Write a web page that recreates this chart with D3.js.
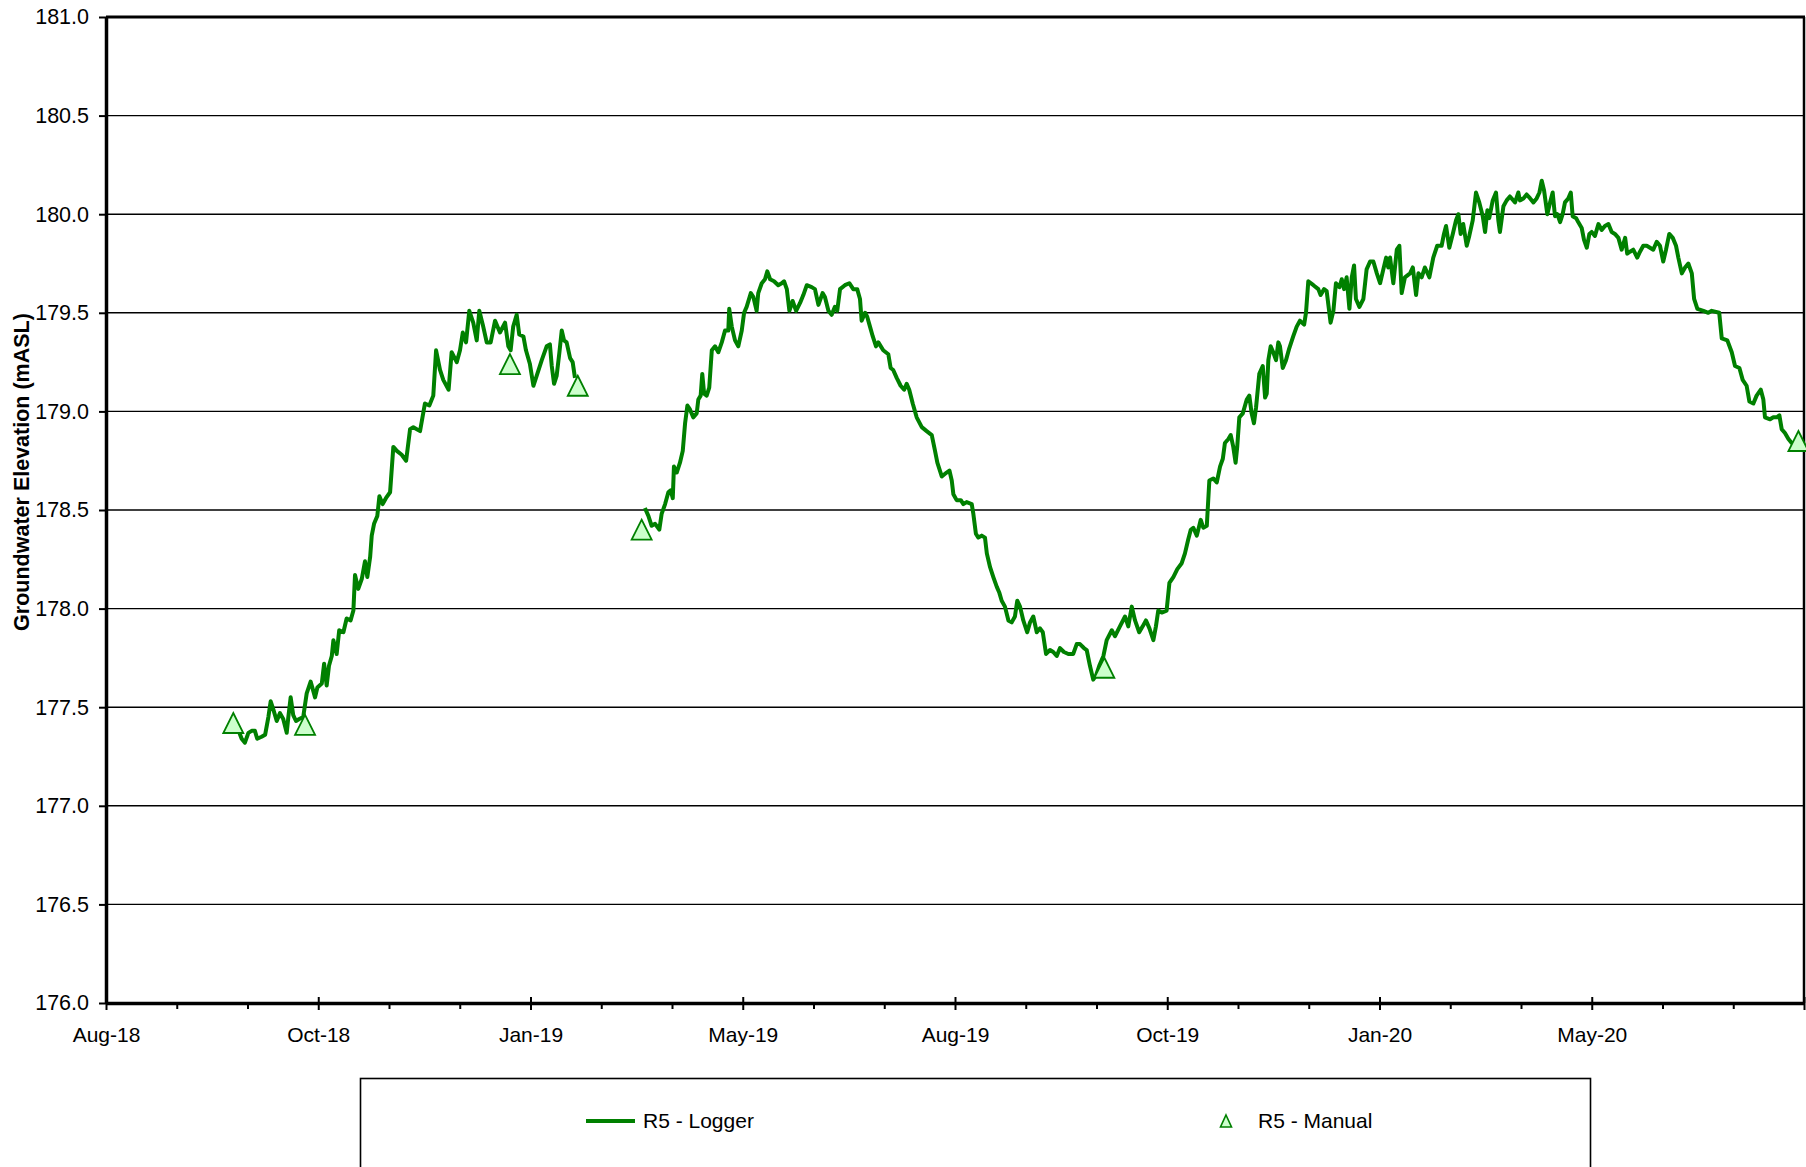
<!DOCTYPE html>
<html><head><meta charset="utf-8">
<script src="https://cdn.jsdelivr.net/npm/d3@7"></script>
<style>
html,body{margin:0;padding:0;background:#fff;}
svg{display:block;font-family:"Liberation Sans",Arial,Helvetica,sans-serif;}
</style></head><body>
<svg id="chart" width="1806" height="1167"></svg>
<script>
// ---------------- DATA ----------------
// Dates are Excel serial day numbers (1 = 1900-01-01); levels in mASL.
// R5 - Logger: [serial date, groundwater elevation]; null marks the data gap.
const loggerSeries = [
[43368.5,177.43],[43371.4,177.34],[43372.8,177.32],[43374.3,177.37],[43375.7,177.38],[43377.1,177.38],[43378.1,177.34],[43380.0,177.35],[43381.5,177.36],[43382.9,177.45],
[43383.9,177.53],[43385.0,177.49],[43386.5,177.43],[43387.9,177.47],[43389.3,177.44],[43390.8,177.37],[43391.5,177.45],[43392.5,177.55],[43393.6,177.46],[43394.8,177.43],
[43396.2,177.44],[43397.9,177.45],[43399.4,177.57],[43401.1,177.63],[43403.0,177.55],[43404.0,177.60],[43405.9,177.62],[43406.9,177.72],[43408.0,177.61],[43409.0,177.71],
[43410.2,177.76],[43410.9,177.84],[43412.3,177.77],[43413.4,177.89],[43415.2,177.88],[43416.6,177.95],[43418.3,177.94],[43419.5,177.99],[43420.2,178.17],[43421.6,178.10],
[43423.1,178.15],[43424.5,178.24],[43425.5,178.16],[43426.7,178.26],[43427.4,178.37],[43428.4,178.43],[43429.8,178.47],[43430.7,178.57],[43432.1,178.53],[43433.5,178.56],
[43435.3,178.59],[43436.7,178.82],[43438.2,178.80],[43440.3,178.78],[43442.2,178.75],[43443.9,178.91],[43445.3,178.92],[43448.2,178.90],[43450.3,179.04],[43452.2,179.03],
[43453.9,179.08],[43455.1,179.31],[43456.8,179.21],[43458.2,179.16],[43460.5,179.11],[43461.8,179.30],[43464.0,179.25],[43465.4,179.31],[43466.6,179.40],[43468.0,179.35],
[43469.4,179.51],[43471.1,179.45],[43472.6,179.36],[43473.7,179.51],[43475.4,179.43],[43476.9,179.35],[43478.6,179.35],[43480.5,179.46],[43482.6,179.40],[43484.8,179.45],
[43486.2,179.33],[43487.2,179.31],[43488.3,179.43],[43489.8,179.49],[43490.9,179.39],[43492.7,179.38],[43493.8,179.31],[43495.5,179.24],[43497.0,179.13],[43498.4,179.18],
[43500.6,179.26],[43502.7,179.33],[43504.1,179.34],[43504.9,179.23],[43505.9,179.14],[43507.0,179.18],[43508.2,179.30],[43509.2,179.41],[43510.2,179.36],[43511.3,179.35],
[43512.8,179.27],[43513.9,179.25],[43514.9,179.17],
[43530.0,null],
[43545.0,178.51],[43546.5,178.47],[43547.9,178.42],[43549.4,178.43],[43551.2,178.40],[43552.2,178.48],[43553.7,178.53],[43555.1,178.59],[43556.1,178.60],[43557.0,178.56],
[43557.5,178.72],[43558.7,178.69],[43560.1,178.74],[43561.3,178.80],[43562.3,178.94],[43563.3,179.03],[43564.4,179.01],[43565.8,178.97],[43567.3,178.99],[43568.0,179.06],
[43569.0,179.08],[43569.7,179.19],[43570.5,179.09],[43571.6,179.08],[43572.7,179.12],[43573.8,179.31],[43575.2,179.33],[43576.6,179.30],[43578.1,179.35],[43579.5,179.41],
[43580.9,179.41],[43581.3,179.52],[43582.4,179.43],[43583.8,179.36],[43585.2,179.33],[43586.7,179.41],[43587.7,179.50],[43588.8,179.53],[43590.6,179.60],[43591.7,179.58],
[43593.1,179.51],[43593.8,179.60],[43595.3,179.65],[43596.7,179.67],[43597.7,179.71],[43598.9,179.67],[43600.6,179.66],[43602.4,179.64],[43603.9,179.65],[43604.9,179.66],
[43606.1,179.62],[43607.2,179.51],[43608.6,179.56],[43610.1,179.51],[43611.8,179.55],[43613.2,179.59],[43614.7,179.64],[43616.8,179.63],[43618.2,179.62],[43619.7,179.54],
[43621.5,179.60],[43622.5,179.58],[43624.0,179.51],[43625.4,179.49],[43626.8,179.53],[43627.8,179.51],[43629.0,179.62],[43631.1,179.64],[43633.0,179.65],[43634.7,179.62],
[43636.4,179.62],[43637.6,179.57],[43638.3,179.46],[43639.8,179.50],[43640.7,179.48],[43641.9,179.43],[43643.1,179.38],[43644.5,179.33],[43645.5,179.35],[43647.6,179.31],
[43649.8,179.29],[43650.8,179.22],[43651.9,179.21],[43653.4,179.17],[43655.1,179.13],[43656.6,179.11],[43657.7,179.14],[43658.8,179.11],[43660.3,179.04],[43662.0,178.97],
[43664.2,178.92],[43666.3,178.90],[43668.5,178.88],[43669.9,178.80],[43670.9,178.74],[43672.8,178.67],[43674.9,178.69],[43676.1,178.70],[43677.1,178.65],[43677.8,178.58],
[43679.2,178.55],[43681.0,178.55],[43682.1,178.53],[43683.5,178.54],[43685.7,178.53],[43686.4,178.48],[43687.5,178.38],[43688.5,178.36],[43690.0,178.37],[43691.4,178.36],
[43692.2,178.28],[43693.6,178.21],[43695.0,178.16],[43696.5,178.11],[43697.6,178.08],[43698.6,178.04],[43700.0,178.01],[43701.5,177.94],[43702.9,177.93],[43704.3,177.96],
[43705.3,178.04],[43706.5,178.01],[43707.9,177.94],[43709.6,177.88],[43710.8,177.93],[43712.2,177.96],[43713.7,177.88],[43715.1,177.90],[43716.3,177.88],[43717.7,177.77],
[43719.4,177.79],[43720.8,177.78],[43722.3,177.76],[43723.7,177.80],[43725.4,177.78],[43727.3,177.77],[43729.4,177.77],[43730.9,177.82],[43732.3,177.82],[43734.0,177.80],
[43735.2,177.79],[43736.6,177.71],[43738.0,177.64],[43739.2,177.66],[43740.6,177.71],[43742.4,177.76],[43743.8,177.84],[43746.0,177.89],[43747.4,177.86],[43749.5,177.91],
[43751.7,177.96],[43753.1,177.91],[43754.6,178.01],[43756.0,177.94],[43757.8,177.88],[43759.3,177.91],[43760.7,177.94],[43762.2,177.90],[43763.9,177.84],[43765.0,177.91],
[43766.0,177.99],[43767.5,177.98],[43769.6,177.99],[43770.8,178.13],[43772.5,178.16],[43774.2,178.20],[43776.1,178.23],[43777.5,178.28],[43778.9,178.35],[43780.0,178.40],
[43781.1,178.41],[43782.6,178.37],[43784.3,178.45],[43785.4,178.41],[43786.9,178.42],[43788.0,178.65],[43789.7,178.66],[43791.2,178.64],[43792.6,178.72],[43793.8,178.76],
[43794.7,178.84],[43796.2,178.86],[43797.2,178.88],[43798.3,178.82],[43799.3,178.74],[43800.0,178.82],[43800.9,178.97],[43802.4,178.99],[43804.1,179.06],[43805.2,179.08],
[43806.2,178.99],[43807.2,178.94],[43808.1,179.02],[43809.5,179.19],[43811.0,179.23],[43812.0,179.07],[43812.7,179.09],[43813.4,179.26],[43814.4,179.33],[43815.5,179.30],
[43816.7,179.26],[43817.7,179.35],[43818.4,179.33],[43819.6,179.22],[43821.0,179.26],[43822.4,179.32],[43824.1,179.38],[43825.6,179.43],[43827.0,179.46],[43828.8,179.44],
[43829.6,179.50],[43830.6,179.66],[43832.8,179.64],[43834.9,179.62],[43835.9,179.59],[43837.4,179.62],[43838.5,179.61],[43840.2,179.45],[43841.4,179.51],[43842.5,179.65],
[43844.0,179.63],[43845.0,179.67],[43846.0,179.62],[43847.1,179.68],[43848.3,179.52],[43849.3,179.68],[43850.3,179.74],[43851.1,179.57],[43852.6,179.53],[43854.3,179.57],
[43855.7,179.72],[43857.2,179.76],[43858.6,179.76],[43860.1,179.70],[43861.5,179.65],[43862.9,179.72],[43864.1,179.78],[43865.0,179.73],[43865.8,179.78],[43867.2,179.65],
[43868.7,179.82],[43869.8,179.84],[43870.8,179.60],[43872.2,179.68],[43874.4,179.70],[43875.6,179.73],[43877.0,179.59],[43878.0,179.70],[43879.4,179.68],[43880.8,179.73],
[43882.7,179.68],[43884.4,179.78],[43886.1,179.84],[43888.0,179.84],[43889.0,179.90],[43889.9,179.94],[43891.3,179.83],[43892.8,179.90],[43894.2,179.97],[43895.2,180.00],
[43896.2,179.90],[43897.3,179.95],[43898.8,179.84],[43899.9,179.89],[43901.4,179.97],[43902.8,180.11],[43904.2,180.06],[43905.7,179.99],[43906.7,179.91],[43907.7,180.02],
[43908.5,179.98],[43910.0,180.07],[43911.4,180.11],[43912.4,179.97],[43913.1,179.91],[43914.6,180.04],[43916.0,180.07],[43917.4,180.09],[43919.6,180.06],[43921.0,180.11],
[43921.7,180.07],[43923.2,180.08],[43924.6,180.10],[43926.1,180.08],[43927.5,180.06],[43928.9,180.08],[43930.1,180.11],[43931.1,180.17],[43932.1,180.12],[43933.5,180.00],
[43934.7,180.06],[43935.8,180.11],[43936.8,179.99],[43937.8,180.00],[43939.0,179.96],[43940.1,180.00],[43941.1,180.06],[43942.5,180.08],[43943.6,180.11],[43944.4,179.99],
[43945.9,179.98],[43946.8,179.96],[43948.3,179.93],[43949.3,179.87],[43950.5,179.83],[43951.6,179.90],[43952.6,179.91],[43954.0,179.89],[43955.5,179.95],[43956.9,179.92],
[43958.3,179.94],[43959.8,179.95],[43961.2,179.91],[43962.6,179.90],[43964.1,179.88],[43965.5,179.82],[43967.0,179.88],[43967.9,179.80],[43969.1,179.81],[43970.5,179.82],
[43972.2,179.78],[43973.4,179.81],[43974.8,179.84],[43976.3,179.84],[43977.7,179.83],[43979.1,179.82],[43980.6,179.86],[43982.0,179.84],[43983.4,179.76],[43984.6,179.82],
[43986.0,179.90],[43987.5,179.88],[43988.9,179.84],[43989.9,179.78],[43991.4,179.70],[43992.8,179.73],[43994.2,179.75],[43995.7,179.70],[43996.7,179.57],[43998.1,179.52],
[44000.7,179.51],[44002.8,179.50],[44004.3,179.51],[44007.5,179.50],[44008.6,179.37],[44011.0,179.36],[44012.9,179.30],[44014.3,179.23],[44016.2,179.22],[44017.6,179.16],
[44019.3,179.13],[44020.5,179.05],[44022.2,179.04],[44023.6,179.08],[44025.4,179.11],[44026.5,179.06],[44027.2,178.97],[44029.4,178.96],[44030.8,178.97],[44032.3,178.97],
[44033.4,178.98],[44034.4,178.91],[44035.8,178.89],[44037.3,178.86],[44038.7,178.84],[44041.0,178.83]
];

// R5 - Manual readings
const manualSerial = [43367.8, 43398.7, 43486.9, 43516.1, 43543.6, 43742.8, 44041.6];
const manualLevel  = [177.42, 177.41, 179.24, 179.13, 178.40, 177.70, 178.85];

// Axes
const yTicks = [176.0, 176.5, 177.0, 177.5, 178.0, 178.5, 179.0, 179.5, 180.0, 180.5, 181.0];
const xAxisStartSerial = 43313;   // 1-Aug-2018
const xAxisEndSerial = 44044;     // 1-Aug-2020
const xMajorCount = 8;
const xMinorPerMajor = 3;
const xTickLabels = ["Aug-18", "Oct-18", "Jan-19", "May-19", "Aug-19", "Oct-19", "Jan-20", "May-20", ""];
const seriesNames = ["R5 - Logger", "R5 - Manual"];
const yAxisTitle = "Groundwater Elevation (mASL)";

// ---------------- DRAWING ----------------
const GREEN = "#008000", MARKER_FILL = "#ccffcc";
const excelToDate = s => new Date(Date.UTC(1899, 11, 30) + s * 864e5);

const plot = {left: 106, right: 1804, top: 17, bottom: 1003};
const svg = d3.select("#chart");

const x = d3.scaleUtc()
  .domain([excelToDate(xAxisStartSerial), excelToDate(xAxisEndSerial)])
  .range([plot.left, plot.right]);
const y = d3.scaleLinear().domain([176, 181]).range([plot.bottom, plot.top]);

const span = xAxisEndSerial - xAxisStartSerial;
const majorTicks = d3.range(0, xMajorCount + 1).map(k => excelToDate(xAxisStartSerial + k * span / xMajorCount));
const minorTicks = d3.range(0, xMajorCount * xMinorPerMajor + 1)
  .filter(k => k % xMinorPerMajor !== 0)
  .map(k => excelToDate(xAxisStartSerial + k * span / (xMajorCount * xMinorPerMajor)));

// gridlines
svg.append("g").selectAll("line")
  .data(yTicks.filter(v => v > 176 && v < 181))
  .join("line")
  .attr("x1", plot.left).attr("x2", plot.right)
  .attr("y1", d => y(d)).attr("y2", d => y(d))
  .attr("stroke", "#000").attr("stroke-width", 1.4);

// plot border top / right
svg.append("line").attr("x1", plot.left).attr("x2", plot.right + 1)
  .attr("y1", y(181)).attr("y2", y(181)).attr("stroke", "#000").attr("stroke-width", 3);
svg.append("line").attr("x1", plot.right).attr("x2", plot.right)
  .attr("y1", y(181)).attr("y2", y(176)).attr("stroke", "#000").attr("stroke-width", 2.5);

// y axis
const yAxisG = svg.append("g").attr("transform", `translate(${plot.left},0)`)
  .call(d3.axisLeft(y).tickValues(yTicks).tickFormat(d3.format(".1f")).tickSize(7).tickSizeOuter(0).tickPadding(10));
yAxisG.select(".domain").attr("stroke", "#000").attr("stroke-width", 3.5);
yAxisG.selectAll(".tick line").attr("stroke", "#000").attr("stroke-width", 2);
yAxisG.selectAll(".tick text").attr("font-size", 21.5).attr("fill", "#000")
  .attr("font-family", "'Liberation Sans', Arial, sans-serif");

// x axis minor ticks
const xMinorG = svg.append("g").attr("transform", `translate(0,${plot.bottom})`)
  .call(d3.axisBottom(x).tickValues(minorTicks).tickFormat("").tickSize(6).tickSizeOuter(0));
xMinorG.select(".domain").remove();
xMinorG.selectAll(".tick line").attr("stroke", "#000").attr("stroke-width", 2);

// x axis major
const xAxisG = svg.append("g").attr("transform", `translate(0,${plot.bottom})`)
  .call(d3.axisBottom(x).tickValues(majorTicks).tickFormat((d, i) => xTickLabels[i]).tickSize(7).tickSizeOuter(0).tickPadding(17));
xAxisG.select(".domain").attr("stroke", "#000").attr("stroke-width", 3.5);
xAxisG.selectAll(".tick line").attr("stroke", "#000").attr("stroke-width", 2).attr("y1", -6);
xAxisG.selectAll(".tick text").attr("font-size", 21).attr("fill", "#000")
  .attr("font-family", "'Liberation Sans', Arial, sans-serif");

// y axis title
svg.append("text")
  .attr("transform", `translate(22,472) rotate(-90)`)
  .attr("text-anchor", "middle").attr("dominant-baseline", "central")
  .attr("font-size", 21.5).attr("font-weight", "bold").attr("fill", "#000")
  .text(yAxisTitle);

// logger line
const line = d3.line()
  .defined(d => d[1] != null)
  .x(d => x(excelToDate(d[0])))
  .y(d => y(d[1]));
svg.append("path").datum(loggerSeries)
  .attr("d", line).attr("fill", "none")
  .attr("stroke", GREEN).attr("stroke-width", 4)
  .attr("stroke-linejoin", "round").attr("stroke-linecap", "butt");

// manual markers
const tri = (w, h) => `M0,${-h / 2}L${w / 2},${h / 2}L${-w / 2},${h / 2}Z`;
svg.append("g").selectAll("path")
  .data(manualSerial.map((s, i) => ({s, v: manualLevel[i]})))
  .join("path")
  .attr("transform", d => `translate(${x(excelToDate(d.s))},${y(d.v)})`)
  .attr("d", tri(20, 20))
  .attr("fill", MARKER_FILL).attr("stroke", GREEN).attr("stroke-width", 1.8)
  .attr("stroke-linejoin", "miter");

// legend
const lg = svg.append("g");
lg.append("rect").attr("x", 360.5).attr("y", 1078.5).attr("width", 1230).attr("height", 140)
  .attr("fill", "#fff").attr("stroke", "#000").attr("stroke-width", 1.6);
lg.append("line").attr("x1", 586).attr("x2", 635).attr("y1", 1121).attr("y2", 1121)
  .attr("stroke", GREEN).attr("stroke-width", 3.8);
lg.append("text").attr("x", 643).attr("y", 1128).attr("font-size", 21).attr("fill", "#000").text(seriesNames[0]);
lg.append("path").attr("transform", "translate(1226,1121)").attr("d", tri(11, 12))
  .attr("fill", MARKER_FILL).attr("stroke", GREEN).attr("stroke-width", 1.6);
lg.append("text").attr("x", 1258).attr("y", 1128).attr("font-size", 21).attr("fill", "#000").text(seriesNames[1]);
</script>
</body></html>
